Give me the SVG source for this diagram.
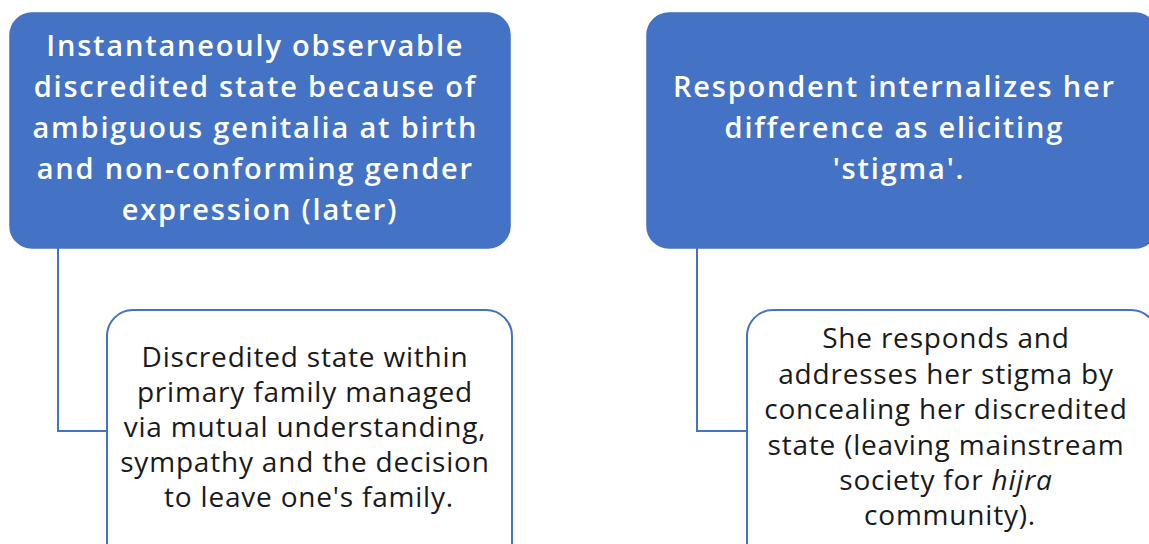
<svg xmlns="http://www.w3.org/2000/svg" width="1149" height="544" viewBox="0 0 1149 544">
  <style>
    .parent { fill: #4472C4; stroke: #4472C4; stroke-width: 1.5; }
    .child { fill: #FFFFFF; stroke: #4472C4; stroke-width: 2; }
    .link { fill: none; stroke: #4472C4; stroke-width: 2; }
    .ptext { font-family: "Open Sans", "Liberation Sans", sans-serif; font-size: 29px; font-weight: 600; letter-spacing: 1.8px; fill: #FFFFFF; text-anchor: middle; }
    .ctext { font-family: "Open Sans", "Liberation Sans", sans-serif; font-size: 28px; letter-spacing: 0.8px; fill: #1A1A1A; text-anchor: middle; }
  </style>
  <rect width="1149" height="544" fill="#FFFFFF"/>

  <!-- connectors from each parent down to its child -->
  <g id="connectors">
    <path class="link" d="M58,248 V431 H107"/>
    <path class="link" d="M697,248 V431 H747"/>
  </g>

  <g id="node-observable">
    <rect class="parent" x="10" y="13" width="500" height="235" rx="22"/>
    <text class="ptext">
      <tspan x="260" y="56">Instantaneouly observable</tspan>
      <tspan x="260" y="97">discredited state because of</tspan>
      <tspan x="260" y="138">ambiguous genitalia at birth</tspan>
      <tspan x="260" y="179">and non-conforming gender</tspan>
      <tspan x="260" y="220">expression (later)</tspan>
    </text>
  </g>

  <g id="node-family">
    <rect class="child" x="107" y="310" width="405" height="260" rx="26"/>
    <text class="ctext">
      <tspan x="309" y="367">Discredited state within</tspan>
      <tspan x="309" y="402">primary family managed</tspan>
      <tspan x="309" y="437">via mutual understanding,</tspan>
      <tspan x="309" y="472">sympathy and the decision</tspan>
      <tspan x="309" y="507">to leave one's family.</tspan>
    </text>
  </g>

  <g id="node-internalizes">
    <rect class="parent" x="647" y="13" width="510" height="235" rx="22"/>
    <text class="ptext">
      <tspan x="899" y="97">Respondent internalizes her</tspan>
      <tspan x="899" y="138">difference as eliciting</tspan>
      <tspan x="899" y="179">'stigma'.</tspan>
    </text>
  </g>

  <g id="node-conceals">
    <rect class="child" x="747" y="310" width="410" height="260" rx="26"/>
    <text class="ctext">
      <tspan x="950" y="348">She responds and</tspan>
      <tspan x="950" y="384">addresses her stigma by</tspan>
      <tspan x="950" y="419">concealing her discredited</tspan>
      <tspan x="950" y="455">state (leaving mainstream</tspan>
      <tspan x="950" y="490">society for <tspan font-style="italic">hijra</tspan></tspan>
      <tspan x="950" y="525">community).</tspan>
    </text>
  </g>
</svg>
